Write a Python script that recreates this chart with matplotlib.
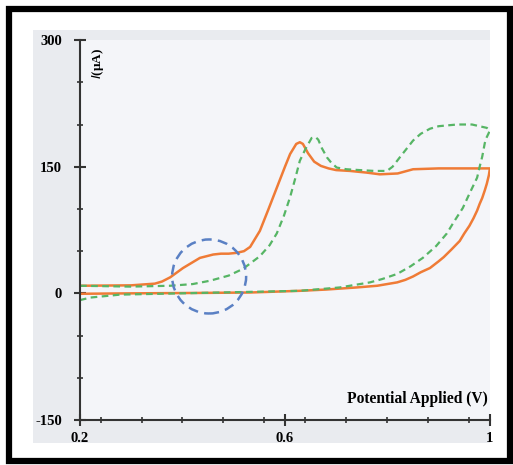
import matplotlib.pyplot as plt
import numpy as np
from matplotlib.patches import Rectangle, Ellipse
from matplotlib.ticker import MultipleLocator, FixedLocator, FixedFormatter

plt.rcParams['axes.unicode_minus'] = False

# cyclic voltammograms: forward (anodic) and reverse sweeps, potential in V, current in uA
orange_fwd_v = [0.20, 0.30, 0.346, 0.36, 0.376, 0.401, 0.434, 0.460, 0.475, 0.490, 0.506,
                0.520, 0.532, 0.551, 0.568, 0.584, 0.600, 0.610, 0.622, 0.629, 0.635,
                0.645, 0.657, 0.670, 0.685, 0.70, 0.727, 0.760, 0.785, 0.82, 0.850,
                0.90, 1.0]
orange_fwd_i = [9, 9.5, 11.5, 14, 19, 30, 42, 46, 47, 47, 48,
                50, 55, 74, 100, 125, 150, 165, 177, 179, 177,
                166, 156, 151, 148, 146, 145, 143, 141, 142, 147,
                148, 148]
orange_rev_v = [1.0, 0.998, 0.994, 0.99, 0.985, 0.98, 0.975, 0.968, 0.96, 0.95, 0.941,
                0.925, 0.91, 0.90, 0.883, 0.865, 0.85, 0.835, 0.819, 0.78, 0.740,
                0.68, 0.629, 0.532, 0.434, 0.3, 0.2]
orange_rev_i = [148, 140, 130, 122, 113, 106, 98, 89, 80, 71, 62,
                52, 43, 38, 30, 25, 20, 16, 13, 9, 7,
                4.5, 3, 1, 0.5, 0, -0.5]

green_fwd_v = [0.20, 0.298, 0.376, 0.420, 0.454, 0.49, 0.518, 0.551, 0.570, 0.584, 0.598,
               0.610, 0.620, 0.629, 0.640, 0.652, 0.660, 0.665, 0.672, 0.682, 0.690,
               0.701, 0.720, 0.746, 0.775, 0.799, 0.81, 0.824, 0.837, 0.850, 0.865,
               0.883, 0.90, 0.936, 0.965, 0.994, 1.0]
green_fwd_i = [9, 8, 9, 11, 15, 21, 29, 44, 57, 71, 92,
               114, 136, 157, 171, 184, 185, 182, 172, 161, 155,
               149, 147, 146, 145, 145, 150, 161, 171, 181, 189,
               195, 198, 200, 200, 196, 193]
green_rev_v = [1.0, 0.997, 0.993, 0.990, 0.985, 0.98, 0.975, 0.96, 0.947, 0.93, 0.916,
               0.895, 0.869, 0.845, 0.819, 0.79, 0.766, 0.707, 0.629,
               0.434, 0.278, 0.22, 0.2]
green_rev_i = [193, 189, 184, 178, 162, 150, 137, 118, 101, 85, 71,
               56, 42, 32, 23, 17, 13, 7, 3,
               0.5, -1.5, -5, -8]

x_ticks = [0.2, 0.6, 1.0]
x_tick_labels = ['0.2', '0.6', '1']
y_ticks = [-150, 0, 150, 300]

serif = 'Liberation Serif'
orange = '#ef7b36'
green = '#56b565'
blue = '#5a80c4'

fig = plt.figure(figsize=(5.13, 4.65), dpi=100)

# outer black frame and grey panel behind the axes
fig.patches.append(Rectangle((0.0166, 0.0086), 0.977, 0.973, transform=fig.transFigure,
                             fill=False, edgecolor='black', linewidth=4.5, zorder=-2))
fig.patches.append(Rectangle((0.0643, 0.0473), 0.891, 0.888, transform=fig.transFigure,
                             facecolor='#e9ebef', edgecolor='none', zorder=-1))

ax = fig.add_axes([0.156, 0.0968, 0.799, 0.817])
ax.set_zorder(1)
ax.set_facecolor('#f4f5f9')

ax.plot(orange_fwd_v + orange_rev_v, orange_fwd_i + orange_rev_i,
        color=orange, lw=1.8, solid_joinstyle='round')
ax.plot(green_fwd_v + green_rev_v, green_fwd_i + green_rev_i,
        color=green, lw=1.6, ls=(0, (3, 2)))

# dashed circle around the pre-peak shoulder
ax.add_patch(Ellipse((0.452, 20), 0.1444, 87.7, fill=False, edgecolor=blue,
                     lw=1.8, ls=(0, (4, 2.5)), zorder=3))

ax.set_xlim(0.2, 1.0)
ax.set_ylim(-150, 300)

for side in ['top', 'right']:
    ax.spines[side].set_visible(False)
for side in ['left', 'bottom']:
    ax.spines[side].set_color('#333333')
    ax.spines[side].set_linewidth(1.5)

ax.xaxis.set_major_locator(FixedLocator(x_ticks))
ax.xaxis.set_major_formatter(FixedFormatter(x_tick_labels))
ax.xaxis.set_minor_locator(MultipleLocator(0.08))
ax.yaxis.set_major_locator(FixedLocator(y_ticks))
ax.yaxis.set_minor_locator(MultipleLocator(50))

ax.tick_params(which='major', direction='inout', length=8, width=1.5, color='#333333',
               labelsize=10.5, pad=5)
ax.tick_params(which='minor', direction='inout', length=5, width=1.2, color='#333333')
ax.tick_params(axis='y', which='major', pad=9)
for lab in ax.get_xticklabels() + ax.get_yticklabels():
    lab.set_fontfamily(serif)
    lab.set_fontweight('bold')

ax.text(0.995, 0.035, 'Potential Applied (V)', transform=ax.transAxes, ha='right', va='bottom',
        fontsize=11.2, fontweight='bold', fontfamily=serif)
ax.text(0.043, 0.98, r'$\mathit{I}$(μA)', transform=ax.transAxes, rotation=90,
        ha='center', va='top', fontsize=9.5, fontweight='bold', fontfamily=serif)

fig.savefig('out.png', dpi=100, facecolor='white')
